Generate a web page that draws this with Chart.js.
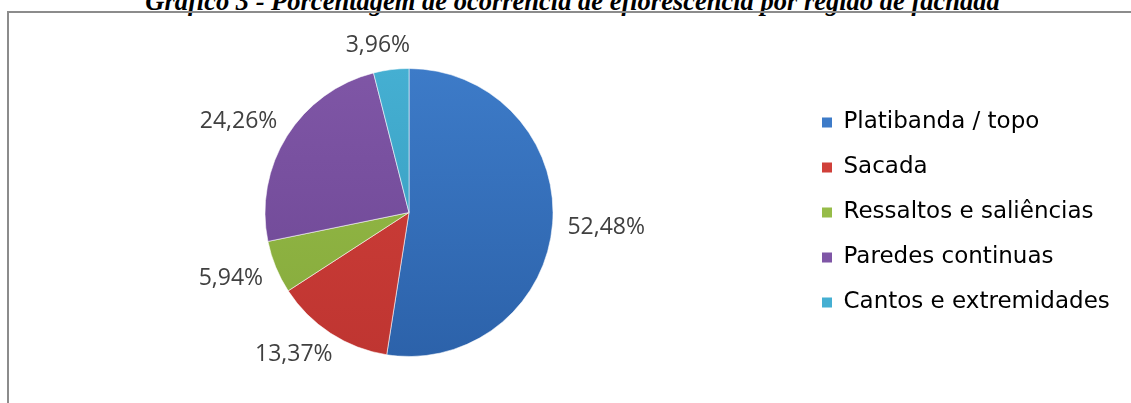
<!DOCTYPE html>
<html>
<head>
<meta charset="utf-8">
<script src="https://cdn.jsdelivr.net/npm/chart.js@4.4.1/dist/chart.umd.min.js"></script>
<style>
  html, body { margin: 0; padding: 0; background: #fff; overflow: hidden; }
  #titulo {
    position: absolute; left: 7px; top: -14px; width: 1131px;
    text-align: center; white-space: nowrap; line-height: 1;
    font: italic bold 26.5px "Liberation Serif", serif; color: #000;
  }
  #moldura {
    position: absolute; left: 7px; top: 11px; width: 1300px; height: 500px;
    border-left: 2px solid #8c8c8c; border-top: 2px solid #8c8c8c;
  }
  #grafico { position: absolute; left: 0; top: 0; }
</style>
</head>
<body>
<div id="titulo">Gráfico 3 - Porcentagem de ocorrência de eflorescência por região de fachada</div>
<div id="moldura"></div>
<canvas id="grafico" width="1131" height="403"></canvas>
<script>
// dados
const regioes = ['Platibanda / topo', 'Sacada', 'Ressaltos e saliências', 'Paredes continuas', 'Cantos e extremidades'];
const percentuais = [52.48, 13.37, 5.94, 24.26, 3.96];
const coresTopo = ['#3d7bc8', '#d0403a', '#96bc48', '#7f56a6', '#45afd2'];
const coresBase = ['#2c62aa', '#bf3531', '#86aa3c', '#6c4693', '#3499bb'];

const rotulos = percentuais.map(v => v.toFixed(2).replace('.', ',') + '%');

const fonteLegenda = { family: 'DejaVu Sans', size: 23 };
const fonteRotulo = '23px "Open Sans"';

// largura do maior item da legenda, para deixar a pizza centrada em x=409
const medidor = document.createElement('canvas').getContext('2d');
medidor.font = `${fonteLegenda.size}px "${fonteLegenda.family}"`;
const maiorTexto = Math.max(...regioes.map(r => medidor.measureText(r).width));
const larguraLegenda = 22 + 10 + fonteLegenda.size / 2 + maiorTexto + 10;
const padDireita = Math.max(0, 1131 - 800 - larguraLegenda);

function gradiente(context) {
    const i = context.dataIndex;
    const area = context.chart.chartArea;
    if (!area) return coresTopo[i];
    const g = context.chart.ctx.createLinearGradient(0, area.top, 0, area.bottom);
    g.addColorStop(0, coresTopo[i]);
    g.addColorStop(1, coresBase[i]);
    return g;
}

// rótulos fora da pizza: a caixa do texto fica a ~15px do arco
const rotulosFora = {
    id: 'rotulosFora',
    afterDatasetsDraw(chart) {
        const ctx = chart.ctx;
        const arcos = chart.getDatasetMeta(0).data;
        ctx.save();
        ctx.font = fonteRotulo;
        ctx.fillStyle = '#404040';
        ctx.textAlign = 'center';
        ctx.textBaseline = 'middle';
        arcos.forEach((arco, i) => {
            const p = arco.getProps(['x', 'y', 'startAngle', 'endAngle', 'outerRadius'], true);
            const meio = (p.startAngle + p.endAngle) / 2;
            const cx = Math.cos(meio), cy = Math.sin(meio);
            const meiaL = ctx.measureText(rotulos[i]).width / 2;
            const meiaA = 9;
            const dist = p.outerRadius + 15;
            const x = p.x + cx * dist + Math.sign(cx) * Math.sqrt(Math.abs(cx)) * meiaL;
            const y = p.y + cy * dist + Math.sign(cy) * Math.sqrt(Math.abs(cy)) * meiaA;
            ctx.fillText(rotulos[i], x, y);
        });
        ctx.restore();
    }
};

new Chart(document.getElementById('grafico'), {
    type: 'pie',
    data: {
        labels: regioes,
        datasets: [{
            data: percentuais,
            backgroundColor: gradiente,
            borderColor: 'rgba(255,255,255,0.55)',
            borderWidth: 1
        }]
    },
    options: {
        responsive: false,
        animation: false,
        layout: { padding: { left: 18, top: 68, bottom: 46, right: padDireita } },
        plugins: {
            tooltip: { enabled: false },
            legend: {
                position: 'right',
                align: 'center',
                labels: {
                    font: fonteLegenda,
                    color: '#000',
                    boxWidth: 10,
                    boxHeight: 10,
                    padding: 22,
                    generateLabels(chart) {
                        return regioes.map((r, i) => ({
                            text: r,
                            fillStyle: coresTopo[i],
                            strokeStyle: coresTopo[i],
                            lineWidth: 0,
                            index: i
                        }));
                    }
                }
            }
        }
    },
    plugins: [rotulosFora]
});
</script>
</body>
</html>
